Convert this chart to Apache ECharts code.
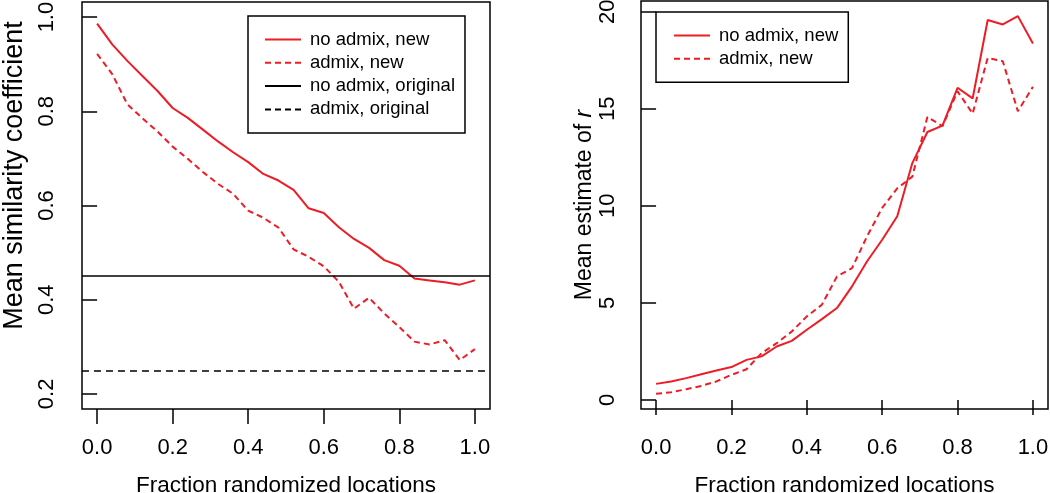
<!DOCTYPE html>
<html>
<head>
<meta charset="utf-8">
<script src="https://cdn.jsdelivr.net/npm/echarts@6/dist/echarts.min.js"></script>
<style>
html,body{margin:0;padding:0;background:#fff;}
#c{width:1050px;height:493px;}
</style>
</head>
<body>
<div id="c"></div>
<script>
// ---- data ----
const fractions = [0.00,0.04,0.08,0.12,0.16,0.20,0.24,0.28,0.32,0.36,0.40,0.44,0.48,0.52,0.56,0.60,0.64,0.68,0.72,0.76,0.80,0.84,0.88,0.92,0.96,1.00];
const simNoAdmixNew = [0.986,0.942,0.907,0.875,0.843,0.807,0.786,0.761,0.736,0.713,0.692,0.667,0.653,0.633,0.594,0.584,0.554,0.529,0.510,0.484,0.472,0.445,0.441,0.437,0.432,0.441];
const simAdmixNew   = [0.922,0.879,0.815,0.785,0.757,0.725,0.699,0.671,0.646,0.625,0.589,0.574,0.553,0.507,0.491,0.471,0.438,0.381,0.404,0.371,0.342,0.311,0.305,0.314,0.272,0.295];
const simNoAdmixOriginal = 0.452;
const simAdmixOriginal   = 0.247;
const rNoAdmixNew = [0.825,0.95,1.12,1.32,1.51,1.69,2.06,2.24,2.75,3.04,3.61,4.16,4.73,5.85,7.14,8.25,9.46,12.2,13.8,14.13,16.08,15.53,19.57,19.34,19.77,18.36];
const rAdmixNew   = [0.31,0.39,0.55,0.72,0.95,1.29,1.58,2.41,2.92,3.52,4.30,4.90,6.36,6.79,8.43,9.89,10.9,11.5,14.58,14.1,15.9,14.75,17.62,17.45,14.87,16.13];
const xTicks = [0,0.2,0.4,0.6,0.8,1.0];
const yTicksLeft = [0.2,0.4,0.6,0.8,1.0];
const yTicksRight = [0,5,10,15,20];
const seriesNames = ['no admix, new','admix, new','no admix, original','admix, original'];
const xTitle = 'Fraction randomized locations';
const yTitleLeft = 'Mean similarity coefficient';

const pair = (xs, ys) => xs.map((x, i) => [x, ys[i]]);
const RED = '#ee1c25';
const FONT = '"Liberation Sans", Arial, Helvetica, sans-serif';
const tickStyle = {length: 15, lineStyle: {color: '#000', width: 1.5}};
const lblBase = {color: '#000', fontSize: 22, fontFamily: FONT};

function xAxisFor(gi) {
  return {
    type: 'value', gridIndex: gi, min: -0.04, max: 1.04,
    splitLine: {show: false}, axisLine: {show: false},
    axisTick: Object.assign({customValues: xTicks}, tickStyle),
    axisLabel: Object.assign({customValues: xTicks, margin: 28, formatter: v => v.toFixed(1)}, lblBase),
    name: xTitle, nameLocation: 'middle', nameGap: 65,
    nameTextStyle: {color: '#000', fontSize: 22.5, fontFamily: FONT}
  };
}

const legendCommon = {
  orient: 'vertical', itemGap: 4.3, itemWidth: 36, itemHeight: 14,
  borderColor: '#000', borderWidth: 1.5, selectedMode: false,
  itemStyle: {opacity: 0},
  textStyle: {color: '#000', fontSize: 18.5, fontFamily: FONT, padding: [0, 0, 0, 4]}
};

const option = {
  animation: false,
  backgroundColor: '#fff',
  grid: [
    {left: 82, right: 560, top: 2, bottom: 84, show: true, borderColor: '#000', borderWidth: 1.5, containLabel: false, outerBoundsMode: 'none'},
    {left: 641, right: 2, top: 1, bottom: 84, show: true, borderColor: '#000', borderWidth: 1.5, containLabel: false, outerBoundsMode: 'none'}
  ],
  xAxis: [xAxisFor(0), xAxisFor(1)],
  yAxis: [
    {
      type: 'value', gridIndex: 0, min: 0.168, max: 1.032,
      splitLine: {show: false}, axisLine: {show: false},
      axisTick: Object.assign({customValues: yTicksLeft}, tickStyle),
      axisLabel: Object.assign({customValues: yTicksLeft, rotate: 90, margin: 24, formatter: v => v.toFixed(1)}, lblBase),
      name: yTitleLeft, nameLocation: 'middle', nameRotate: 90, nameGap: 54,
      nameTextStyle: {color: '#000', fontSize: 27, fontFamily: FONT, padding: [0, 0, 0, 60]}
    },
    {
      type: 'value', gridIndex: 1, min: -0.47, max: 20.55,
      splitLine: {show: false}, axisLine: {show: false},
      axisTick: Object.assign({customValues: yTicksRight}, tickStyle),
      axisLabel: Object.assign({customValues: yTicksRight, rotate: 90, margin: 22, formatter: v => String(v)}, lblBase),
      name: '{n|Mean estimate of }{i|r}', nameLocation: 'middle', nameRotate: 90, nameGap: 45,
      nameTextStyle: {color: '#000', fontSize: 23, fontFamily: FONT,
        rich: {n: {fontSize: 23, fontFamily: FONT, color: '#000'}, i: {fontSize: 23, fontStyle: 'italic', fontFamily: FONT, color: '#000'}}}
    }
  ],
  legend: [
    Object.assign({data: seriesNames, left: 248, top: 16, padding: [14, 10, 14, 16]}, legendCommon),
    Object.assign({data: seriesNames.slice(0, 2), left: 656, top: 12, padding: [14, 10, 14, 17]}, legendCommon)
  ],
  series: [
    {name: seriesNames[0], type: 'line', xAxisIndex: 0, yAxisIndex: 0, data: pair(fractions, simNoAdmixNew),
     symbol: 'none', color: RED, lineStyle: {color: RED, width: 2, type: 'solid'}},
    {name: seriesNames[1], type: 'line', xAxisIndex: 0, yAxisIndex: 0, data: pair(fractions, simAdmixNew),
     symbol: 'none', color: RED, lineStyle: {color: RED, width: 2, type: [6, 4]}},
    {name: seriesNames[2], type: 'line', xAxisIndex: 0, yAxisIndex: 0, data: [],
     symbol: 'none', color: '#000', lineStyle: {color: '#000', width: 1.6, type: 'solid'},
     markLine: {silent: true, symbol: 'none', label: {show: false},
       lineStyle: {color: '#000', width: 1.6, type: 'solid'}, data: [{yAxis: simNoAdmixOriginal}]}},
    {name: seriesNames[3], type: 'line', xAxisIndex: 0, yAxisIndex: 0, data: [],
     symbol: 'none', color: '#000', lineStyle: {color: '#000', width: 1.6, type: [6, 4]},
     markLine: {silent: true, symbol: 'none', label: {show: false},
       lineStyle: {color: '#000', width: 1.6, type: [7, 5]}, data: [{yAxis: simAdmixOriginal}]}},
    {name: seriesNames[0], type: 'line', xAxisIndex: 1, yAxisIndex: 1, data: pair(fractions, rNoAdmixNew),
     symbol: 'none', color: RED, lineStyle: {color: RED, width: 2, type: 'solid'}},
    {name: seriesNames[1], type: 'line', xAxisIndex: 1, yAxisIndex: 1, data: pair(fractions, rAdmixNew),
     symbol: 'none', color: RED, lineStyle: {color: RED, width: 2, type: [6, 4]}}
  ]
};
const chart = echarts.init(document.getElementById('c'), null, {renderer: 'canvas'});
chart.setOption(option);
</script>
</body>
</html>
